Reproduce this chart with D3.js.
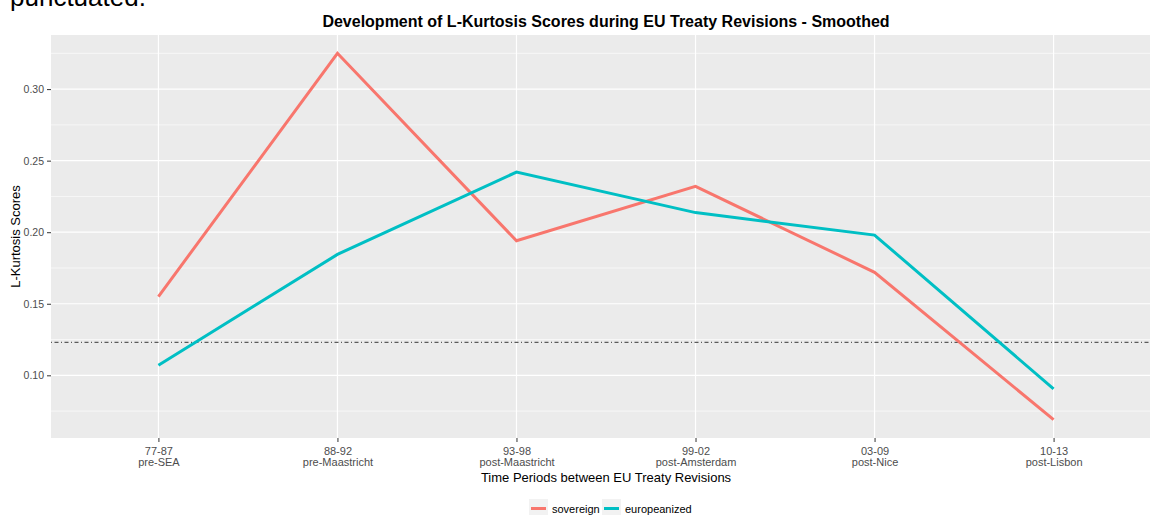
<!DOCTYPE html>
<html>
<head>
<meta charset="utf-8">
<script src="https://cdn.jsdelivr.net/npm/d3@7"></script>
<style>
  html, body { margin: 0; padding: 0; background: #fff; overflow: hidden; }
  text { font-family: "Liberation Sans", Arial, sans-serif; }
</style>
</head>
<body>
<svg id="chart" width="1150" height="515"></svg>
<script>
// periods between treaty revisions
const periods = ["77-87", "88-92", "93-98", "99-02", "03-09", "10-13"];
const periodNames = ["pre-SEA", "pre-Maastricht", "post-Maastricht", "post-Amsterdam", "post-Nice", "post-Lisbon"];

// smoothed L-kurtosis scores
const sovereign = [0.155, 0.325, 0.194, 0.232, 0.172, 0.069];
const europeanized = [0.107, 0.1845, 0.242, 0.2137, 0.198, 0.0905];

const refLine = 0.123; // dotdash reference
const yTicks = [0.10, 0.15, 0.20, 0.25, 0.30];
const yMinor = [0.075, 0.125, 0.175, 0.225, 0.275, 0.325];

const seriesNames = ["sovereign", "europeanized"];
const seriesColors = ["#F8766D", "#00BFC4"];

const svg = d3.select("#chart");
const margin = { top: 35, right: -11, bottom: 77, left: 51 };
const width = 1150, height = 515;

// lead-in text from the page above (cut off at the top)
svg.append("text")
  .attr("x", 10).attr("y", 6)
  .style("font-size", "26px")
  .attr("fill", "#000")
  .text("punctuated.");

const x = d3.scalePoint()
  .domain(periods)
  .range([margin.left, width - margin.right])
  .padding(0.6);

// ggplot-style 5% expansion
const all = sovereign.concat(europeanized, [refLine]);
const lo = d3.min(all), hi = d3.max(all), pad = (hi - lo) * 0.05;
const y = d3.scaleLinear()
  .domain([lo - pad, hi + pad])
  .range([height - margin.bottom, margin.top]);

// panel
svg.append("rect")
  .attr("x", margin.left).attr("y", margin.top)
  .attr("width", width - margin.right - margin.left)
  .attr("height", height - margin.bottom - margin.top)
  .attr("fill", "#ebebeb");

const grid = svg.append("g");
grid.selectAll(".minor").data(yMinor).join("line")
  .attr("x1", margin.left).attr("x2", width - margin.right)
  .attr("y1", d => y(d)).attr("y2", d => y(d))
  .attr("stroke", "#fff").attr("stroke-width", 0.6);
grid.selectAll(".major").data(yTicks).join("line")
  .attr("x1", margin.left).attr("x2", width - margin.right)
  .attr("y1", d => y(d)).attr("y2", d => y(d))
  .attr("stroke", "#fff").attr("stroke-width", 1.2);
grid.selectAll(".vx").data(periods).join("line")
  .attr("x1", d => x(d)).attr("x2", d => x(d))
  .attr("y1", margin.top).attr("y2", height - margin.bottom)
  .attr("stroke", "#fff").attr("stroke-width", 1.2);

// reference line
svg.append("line")
  .attr("x1", margin.left).attr("x2", width - margin.right)
  .attr("y1", y(refLine)).attr("y2", y(refLine))
  .attr("stroke", "#5a5a5a").attr("stroke-width", 1.1)
  .attr("stroke-dasharray", "1 2.5 4 2.5");

// series lines
const line = d3.line().x((d, i) => x(periods[i])).y(d => y(d));
[sovereign, europeanized].forEach((s, k) => {
  svg.append("path")
    .datum(s)
    .attr("d", line)
    .attr("fill", "none")
    .attr("stroke", seriesColors[k])
    .attr("stroke-width", 3)
    .attr("stroke-linejoin", "miter");
});

// y axis
const yAxis = svg.append("g")
  .attr("transform", `translate(${margin.left},0)`)
  .call(d3.axisLeft(y).tickValues(yTicks).tickFormat(d3.format(".2f")).tickSize(4).tickPadding(3));
yAxis.select(".domain").remove();
yAxis.selectAll("line").attr("stroke", "#333");
yAxis.selectAll("text").attr("fill", "#4d4d4d").style("font-size", "10.5px");

// x axis with two-line labels
const xAxis = svg.append("g")
  .attr("transform", `translate(0,${height - margin.bottom})`)
  .call(d3.axisBottom(x).tickSize(4).tickFormat(""));
xAxis.select(".domain").remove();
xAxis.selectAll("line").attr("stroke", "#333");
xAxis.selectAll(".tick").append("text")
  .attr("fill", "#4d4d4d")
  .attr("text-anchor", "middle")
  .style("font-size", "11px")
  .each(function (d, i) {
    const t = d3.select(this);
    t.append("tspan").attr("x", 0).attr("y", 17).text(d);
    t.append("tspan").attr("x", 0).attr("y", 28).text(periodNames[i]);
  });

const cx = (margin.left + width - margin.right) / 2;

// titles
svg.append("text")
  .attr("x", cx).attr("y", 27)
  .attr("text-anchor", "middle")
  .style("font-size", "16px").style("font-weight", "bold")
  .text("Development of L-Kurtosis Scores during EU Treaty Revisions - Smoothed");

svg.append("text")
  .attr("x", cx).attr("y", 482)
  .attr("text-anchor", "middle")
  .style("font-size", "13px")
  .text("Time Periods between EU Treaty Revisions");

svg.append("text")
  .attr("transform", `translate(20,${(margin.top + height - margin.bottom) / 2}) rotate(-90)`)
  .attr("text-anchor", "middle")
  .style("font-size", "13px")
  .text("L-Kurtosis Scores");

// legend
const legend = svg.append("g").attr("transform", "translate(529,499)");
const keyX = [0, 73];
seriesNames.forEach((n, k) => {
  const g = legend.append("g").attr("transform", `translate(${keyX[k]},0)`);
  g.append("rect").attr("width", 19).attr("height", 17).attr("fill", "#f2f2f2");
  g.append("line").attr("x1", 2).attr("x2", 17).attr("y1", 9.5).attr("y2", 9.5)
    .attr("stroke", seriesColors[k]).attr("stroke-width", 3);
  g.append("text").attr("x", 23).attr("y", 13.5)
    .style("font-size", "11px").attr("fill", "#000").text(n);
});
</script>
</body>
</html>
